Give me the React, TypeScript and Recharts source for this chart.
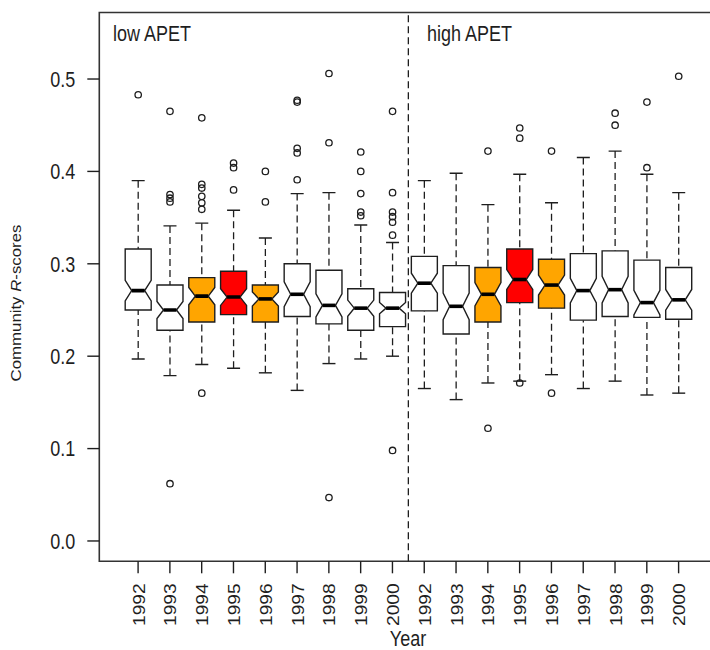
import React from "react"
import { ComposedChart, XAxis, YAxis, Bar, ReferenceLine, ReferenceArea, Customized } from "recharts"

// two APET groups, 1992-2000 each
const years = [
  "1992", "1993", "1994", "1995", "1996", "1997", "1998", "1999", "2000",
  "1992", "1993", "1994", "1995", "1996", "1997", "1998", "1999", "2000",
]
const upperWhisker = [0.390, 0.341, 0.344, 0.358, 0.328, 0.376, 0.377, 0.342, 0.323, 0.390, 0.398, 0.364, 0.397, 0.366, 0.415, 0.422, 0.397, 0.377]
const upperQuart = [0.316, 0.277, 0.285, 0.292, 0.277, 0.300, 0.293, 0.273, 0.269, 0.308, 0.298, 0.296, 0.316, 0.305, 0.311, 0.314, 0.304, 0.296]
const medians = [0.271, 0.250, 0.265, 0.264, 0.262, 0.267, 0.255, 0.252, 0.252, 0.279, 0.254, 0.267, 0.283, 0.277, 0.271, 0.272, 0.258, 0.261]
const lowerQuart = [0.250, 0.228, 0.237, 0.245, 0.237, 0.243, 0.235, 0.228, 0.232, 0.249, 0.224, 0.237, 0.258, 0.252, 0.239, 0.243, 0.242, 0.240]
const lowerWhisker = [0.197, 0.179, 0.191, 0.187, 0.182, 0.163, 0.192, 0.197, 0.200, 0.165, 0.153, 0.171, 0.173, 0.180, 0.165, 0.173, 0.158, 0.160]
const notchHalf = [0.0112, 0.0092, 0.0094, 0.009, 0.0076, 0.0134, 0.0126, 0.0087, 0.0061, 0.0108, 0.0144, 0.0126, 0.0108, 0.0108, 0.0134, 0.0144, 0.0134, 0.0112]
const outliers = [
  [0.483],
  [0.465, 0.375, 0.371, 0.367, 0.062],
  [0.458, 0.386, 0.382, 0.373, 0.366, 0.359, 0.160],
  [0.409, 0.404, 0.380],
  [0.400, 0.367],
  [0.477, 0.475, 0.425, 0.420, 0.391],
  [0.506, 0.431, 0.047],
  [0.421, 0.400, 0.376, 0.356, 0.352],
  [0.465, 0.377, 0.356, 0.351, 0.345, 0.331, 0.098],
  [],
  [],
  [0.422, 0.122],
  [0.447, 0.436, 0.171],
  [0.422, 0.160],
  [],
  [0.463, 0.450],
  [0.475, 0.404],
  [0.503],
]
const boxFill = [
  "#ffffff", "#ffffff", "#ffa500", "#ff0000", "#ffa500", "#ffffff", "#ffffff", "#ffffff", "#ffffff",
  "#ffffff", "#ffffff", "#ffa500", "#ff0000", "#ffa500", "#ffffff", "#ffffff", "#ffffff", "#ffffff",
]
const yTicks = [0, 0.1, 0.2, 0.3, 0.4, 0.5]

const data = years.map((year, i) => ({
  pos: i + 1,
  year,
  lo: lowerWhisker[i],
  q1: lowerQuart[i],
  med: medians[i],
  q3: upperQuart[i],
  hi: upperWhisker[i],
  notch: notchHalf[i],
  out: outliers[i],
  fill: boxFill[i],
}))

const FONT = "'Liberation Sans', Arial, sans-serif"
const INK = "#1e1e1e"
const BOX_W = 26
const DASH = "7 4"

const BoxShape = (props: any) => {
  const { x, y, width, height, payload } = props
  const top = Math.min(y, y + height)
  const bottom = Math.max(y, y + height)
  const { lo, hi, q1, q3, med, notch, out, fill } = payload
  // pixel of a value, from the whisker range the bar was drawn for
  const py = (v: number) => bottom - ((v - lo) / (hi - lo)) * (bottom - top)
  const cx = x + width / 2
  const h = BOX_W / 2
  const q = BOX_W / 4
  const pts = [
    [cx - h, py(q1)],
    [cx + h, py(q1)],
    [cx + h, py(med - notch)],
    [cx + q, py(med)],
    [cx + h, py(med + notch)],
    [cx + h, py(q3)],
    [cx - h, py(q3)],
    [cx - h, py(med + notch)],
    [cx - q, py(med)],
    [cx - h, py(med - notch)],
  ]
    .map((p) => p.join(","))
    .join(" ")
  return (
    <g>
      <line x1={cx} x2={cx} y1={py(hi)} y2={py(q3)} stroke={INK} strokeWidth={1.3} strokeDasharray={DASH} />
      <line x1={cx} x2={cx} y1={py(lo)} y2={py(q1)} stroke={INK} strokeWidth={1.3} strokeDasharray={DASH} />
      <line x1={cx - q} x2={cx + q} y1={py(hi)} y2={py(hi)} stroke={INK} strokeWidth={1.4} />
      <line x1={cx - q} x2={cx + q} y1={py(lo)} y2={py(lo)} stroke={INK} strokeWidth={1.4} />
      <polygon points={pts} fill={fill} stroke={INK} strokeWidth={1.4} />
      <line x1={cx - q} x2={cx + q} y1={py(med)} y2={py(med)} stroke="#000" strokeWidth={3.6} />
      {out.map((v: number, k: number) => (
        <circle key={k} cx={cx} cy={py(v)} r={3.2} fill="none" stroke={INK} strokeWidth={1.3} />
      ))}
    </g>
  )
}

const YTick = (props: any) => {
  const { x, y, payload } = props
  return (
    <text
      transform={`translate(${x},${y}) scale(1,1.2)`}
      textAnchor="end"
      dy="0.36em"
      fontSize={18}
      fontFamily={FONT}
      fill={INK}
    >
      {Number(payload.value).toFixed(1)}
    </text>
  )
}

const XTick = (props: any) => {
  const { x, y, payload } = props
  return (
    <text
      transform={`translate(${x + 6.5},${y}) scale(1,1.2) rotate(-90)`}
      textAnchor="end"
      fontSize={16}
      fontFamily={FONT}
      fill={INK}
    >
      {years[payload.value - 1]}
    </text>
  )
}

const Labels = () => (
  <g fontFamily={FONT} fill={INK}>
    <text transform="translate(113,41) scale(1,1.2)" fontSize={18}>
      low APET
    </text>
    <text transform="translate(427,41) scale(1,1.2)" fontSize={18}>
      high APET
    </text>
    <text transform="translate(408,646) scale(1,1.2)" fontSize={18} textAnchor="middle">
      Year
    </text>
    <text transform="translate(20.7,303) scale(1,1.2) rotate(-90)" fontSize={14} textAnchor="middle">
      Community <tspan fontStyle="italic">R</tspan>-scores
    </text>
  </g>
)

export default function App() {
  return (
    <div style={{ position: "absolute", left: 0, top: 0, width: 710, height: 650, overflow: "hidden", background: "#fff" }}>
      <ComposedChart width={730} height={650} data={data} margin={{ top: 12.5, right: 12.6, left: 0, bottom: 0 }}>
        <XAxis
          type="number"
          dataKey="pos"
          domain={[-0.22, 19.22]}
          ticks={data.map((d) => d.pos)}
          interval={0}
          allowDataOverflow
          height={88.7}
          axisLine={false}
          tickSize={12}
          tickMargin={10}
          tickLine={{ stroke: INK, strokeWidth: 1.4 }}
          tick={<XTick />}
        />
        <YAxis
          type="number"
          domain={[-0.022, 0.572]}
          ticks={yTicks}
          interval={0}
          allowDataOverflow
          width={99.3}
          axisLine={false}
          tickSize={12}
          tickMargin={12}
          tickLine={{ stroke: INK, strokeWidth: 1.4 }}
          tick={<YTick />}
        />
        <ReferenceArea x1={-0.22} x2={19.22} y1={-0.022} y2={0.572} fill="none" stroke="#333" strokeWidth={1.6} ifOverflow="visible" />
        <ReferenceLine x={9.5} stroke={INK} strokeWidth={1.3} strokeDasharray={DASH} />
        <Bar
          dataKey={(d: any) => [d.lo, d.hi]}
          barSize={BOX_W}
          isAnimationActive={false}
          shape={(p: any) => <BoxShape {...p} />}
        />
        <Customized component={Labels} />
      </ComposedChart>
    </div>
  )
}
